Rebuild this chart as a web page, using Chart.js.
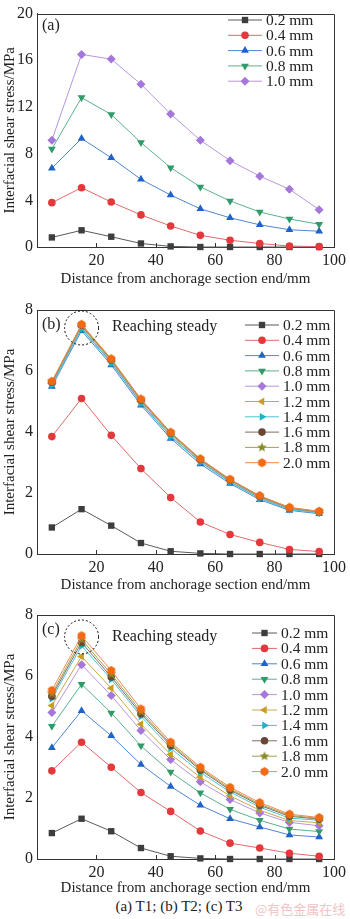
<!DOCTYPE html>
<html>
<head>
<meta charset="utf-8">
<script src="https://cdn.jsdelivr.net/npm/chart.js@4.4.1/dist/chart.umd.min.js"></script>
<style>
  body { margin: 0; background: #fff; }
  #wrap { position: relative; width: 350px; height: 919px; overflow: hidden; }
  canvas { position: absolute; left: 0; }
  .caption { position: absolute; top: 898px; left: 0; width: 358px; text-align: center;
    font: 15px "Liberation Serif", serif; color: #222; }
  .mark { position: absolute; top: 899px; left: 255px; font: 13px "Noto Sans CJK SC"; color: #efc4c4; }
</style>
</head>
<body>
<div id="wrap">
  <canvas id="chartA" width="350" height="288" style="top:0px"></canvas>
  <canvas id="chartB" width="350" height="306" style="top:288px"></canvas>
  <canvas id="chartC" width="350" height="303" style="top:594px"></canvas>
  <div class="caption">(a) T1; (b) T2; (c) T3</div>
  <div class="mark">@有色金属在线</div>
</div>
<script>
// distance from anchorage section end (mm)
const distance = [5, 15, 25, 35, 45, 55, 65, 75, 85, 95];
const widthLabels = ['0.2 mm', '0.4 mm', '0.6 mm', '0.8 mm', '1.0 mm', '1.2 mm', '1.4 mm', '1.6 mm', '1.8 mm', '2.0 mm'];

// (a) T1
const t1_02 = [0.82, 1.43, 0.88, 0.30, 0.05, 0, 0, 0, 0, 0];
const t1_04 = [3.80, 5.08, 3.85, 2.75, 1.80, 1.00, 0.58, 0.30, 0.08, 0.03];
const t1_06 = [6.75, 9.30, 7.65, 5.80, 4.45, 3.27, 2.50, 1.90, 1.48, 1.35];
const t1_08 = [8.40, 12.80, 11.35, 8.95, 6.80, 5.15, 3.95, 3.00, 2.40, 1.95];
const t1_10 = [9.15, 16.50, 16.10, 13.95, 11.40, 9.15, 7.40, 6.07, 4.95, 3.20];

// (b) T2
const t2_02 = [0.87, 1.47, 0.93, 0.36, 0.09, 0.02, 0, 0, 0, 0];
const t2_04 = [3.85, 5.10, 3.89, 2.80, 1.85, 1.05, 0.64, 0.38, 0.15, 0.08];
const t2_06 = [5.49, 7.32, 6.20, 4.88, 3.79, 2.95, 2.31, 1.78, 1.43, 1.32];
const t2_08 = [5.56, 7.40, 6.28, 4.96, 3.87, 3.03, 2.37, 1.84, 1.47, 1.36];
const t2_10 = [5.60, 7.45, 6.32, 5.00, 3.92, 3.06, 2.40, 1.87, 1.49, 1.37];
const t2_12 = [5.62, 7.48, 6.35, 5.03, 3.95, 3.08, 2.42, 1.88, 1.50, 1.38];
const t2_14 = [5.55, 7.38, 6.26, 4.94, 3.85, 3.01, 2.35, 1.82, 1.46, 1.35];
const t2_16 = [5.63, 7.50, 6.37, 5.05, 3.97, 3.10, 2.43, 1.89, 1.51, 1.39];
const t2_18 = [5.64, 7.51, 6.38, 5.06, 3.98, 3.11, 2.44, 1.90, 1.52, 1.39];
const t2_20 = [5.66, 7.53, 6.40, 5.08, 3.99, 3.12, 2.45, 1.91, 1.53, 1.40];

// (c) T3
const t3_02 = [0.85, 1.32, 0.91, 0.36, 0.09, 0.02, 0, 0, 0, 0];
const t3_04 = [2.89, 3.83, 3.01, 2.18, 1.56, 0.92, 0.52, 0.36, 0.19, 0.09];
const t3_06 = [3.65, 4.86, 4.04, 3.10, 2.38, 1.76, 1.32, 1.05, 0.79, 0.72];
const t3_08 = [4.35, 5.73, 4.79, 3.71, 2.85, 2.17, 1.63, 1.27, 0.98, 0.90];
const t3_10 = [4.80, 6.37, 5.36, 4.21, 3.26, 2.53, 1.95, 1.51, 1.20, 1.09];
const t3_12 = [5.03, 6.64, 5.60, 4.42, 3.43, 2.68, 2.07, 1.60, 1.26, 1.19];
const t3_14 = [5.26, 6.99, 5.89, 4.68, 3.63, 2.84, 2.20, 1.70, 1.34, 1.27];
const t3_16 = [5.34, 7.10, 5.97, 4.76, 3.72, 2.92, 2.26, 1.76, 1.40, 1.31];
const t3_18 = [5.42, 7.20, 6.06, 4.83, 3.77, 2.96, 2.30, 1.80, 1.43, 1.33];
const t3_20 = [5.53, 7.32, 6.18, 4.92, 3.83, 3.01, 2.35, 1.85, 1.47, 1.36];

Chart.defaults.font.family = '"Liberation Serif", "Times New Roman", serif';
Chart.defaults.font.size = 15;
Chart.defaults.color = '#222';

// custom marker shapes that Chart.js does not have
function makeHex(color, r) {
  const c = document.createElement('canvas');
  c.width = c.height = 2 * r + 2;
  const g = c.getContext('2d');
  g.fillStyle = color;
  g.beginPath();
  for (let k = 0; k < 6; k++) {
    const a = Math.PI / 6 + k * Math.PI / 3;
    const px = r + 1 + r * Math.cos(a), py = r + 1 + r * Math.sin(a);
    k ? g.lineTo(px, py) : g.moveTo(px, py);
  }
  g.closePath();
  g.fill();
  return c;
}
function makeStar(color, r) {
  const c = document.createElement('canvas');
  c.width = c.height = 2 * r + 2;
  const g = c.getContext('2d');
  g.fillStyle = color;
  g.beginPath();
  for (let k = 0; k < 10; k++) {
    const rr = k % 2 ? r * 0.45 : r;
    const a = -Math.PI / 2 + k * Math.PI / 5;
    const px = r + 1 + rr * Math.cos(a), py = r + 1 + rr * Math.sin(a);
    k ? g.lineTo(px, py) : g.moveTo(px, py);
  }
  g.closePath();
  g.fill();
  return c;
}

// one style per width class
const styles = [
  { color: '#3d3d3d', line: '#5a5a5a', shape: 'rect', rot: 0, r: 4.5 },
  { color: '#e4393c', line: '#e06a6a', shape: 'circle', rot: 0, r: 3.8 },
  { color: '#1f62c8', line: '#4f86d0', shape: 'triangle', rot: 0, r: 4.5 },
  { color: '#2e9b68', line: '#5cb08a', shape: 'triangle', rot: 180, r: 4.5 },
  { color: '#a577db', line: '#b896e0', shape: 'rectRot', rot: 0, r: 4.5 },
  { color: '#c79d22', line: '#caa84a', shape: 'triangle', rot: 270, r: 4.5 },
  { color: '#17b6c9', line: '#4cc3d2', shape: 'triangle', rot: 90, r: 4.5 },
  { color: '#6b4535', line: '#866a5e', shape: 'circle', rot: 0, r: 3.8 },
  { color: '#8a8a26', line: '#a0a050', shape: makeStar('#8a8a26', 5), rot: 0, r: 5 },
  { color: '#f26a12', line: '#f08a4a', shape: makeHex('#f26a12', 4.5), rot: 0, r: 4.5 }
];

function makeSets(series) {
  return series.map((vals, i) => ({
    label: widthLabels[i],
    data: vals.map((v, k) => ({ x: distance[k], y: v })),
    borderColor: styles[i].line,
    backgroundColor: styles[i].color,
    pointBackgroundColor: styles[i].color,
    pointBorderColor: styles[i].color,
    pointBorderWidth: 0,
    pointStyle: styles[i].shape,
    pointRotation: styles[i].rot,
    pointRadius: styles[i].r,
    borderWidth: 1,
    tension: 0,
    clip: false,
    order: series.length - i
  }));
}

const panelDecor = {
  id: 'panelDecor',
  afterDatasetsDraw(chart, args, opts) {
    const { ctx, chartArea: a, scales: { x, y } } = chart;
    ctx.save();
    ctx.strokeStyle = '#333';
    ctx.lineWidth = 1;
    const top = Math.round(a.top) + 0.5, right = Math.round(a.right) + 0.5, bottom = Math.round(a.bottom);
    ctx.beginPath();
    ctx.moveTo(Math.round(a.left), top);
    ctx.lineTo(right, top);
    ctx.lineTo(right, bottom);
    ctx.stroke();
    // inward ticks
    ctx.beginPath();
    x.ticks.forEach(t => {
      if (t.value <= 0 || t.value >= 100) return;
      const px = Math.round(x.getPixelForValue(t.value)) + 0.5;
      ctx.moveTo(px, bottom);
      ctx.lineTo(px, bottom - 4);
    });
    ctx.stroke();

    // panel tag
    ctx.fillStyle = '#222';
    ctx.font = '16px "Liberation Serif"';
    ctx.textBaseline = 'middle';
    ctx.textAlign = 'left';
    ctx.fillText(opts.tag, a.left + 5, a.top + opts.tagDy);

    // note + dashed circle
    if (opts.note) {
      ctx.fillText(opts.note, a.left + 75, a.top + opts.noteDy);
      ctx.setLineDash([2, 2]);
      ctx.strokeStyle = '#111';
      ctx.beginPath();
      ctx.arc(x.getPixelForValue(opts.circleX), y.getPixelForValue(opts.circleY), 17, 0, Math.PI * 2);
      ctx.stroke();
      ctx.setLineDash([]);
    }

    // legend: line + marker + text
    ctx.font = '15.5px "Liberation Serif"';
    chart.data.datasets.forEach((ds, i) => {
      const ly = opts.legendY + i * opts.legendRow;
      ctx.strokeStyle = ds.borderColor;
      ctx.beginPath();
      ctx.moveTo(opts.legendX, ly);
      ctx.lineTo(opts.legendX + opts.legendLen, ly);
      ctx.stroke();
      ctx.fillStyle = ds.pointBackgroundColor;
      ctx.strokeStyle = ds.pointBorderColor;
      Chart.helpers.drawPoint(ctx, { pointStyle: ds.pointStyle, rotation: ds.pointRotation, radius: ds.pointRadius, borderWidth: 0 },
        opts.legendX + opts.legendLen / 2, ly);
      ctx.fillStyle = '#222';
      ctx.fillText(ds.label, opts.legendX + opts.legendLen + 4, ly + 1);
    });
    ctx.restore();
  }
};

function makeChart(id, series, yMax, yStep, padTop, xHeight, decor) {
  return new Chart(document.getElementById(id), {
    type: 'line',
    data: { datasets: makeSets(series) },
    options: {
      responsive: false,
      animation: false,
      layout: { padding: { top: padTop, right: 11, bottom: 0, left: 0 } },
      plugins: { legend: { display: false }, tooltip: { enabled: false }, panelDecor: decor },
      scales: {
        x: {
          type: 'linear', min: 0, max: 100,
          grid: { display: false, drawTicks: false },
          border: { display: true, color: '#333', width: 1 },
          ticks: { stepSize: 20, padding: 4, font: { size: 16 }, callback: v => (v === 0 ? '' : v), maxRotation: 0 },
          title: { display: true, text: 'Distance from anchorage section end/mm', padding: 0 },
          afterFit: s => { s.height = xHeight; }
        },
        y: {
          min: 0, max: yMax,
          grid: { display: false, drawTicks: false },
          border: { display: true, color: '#333', width: 1 },
          ticks: { stepSize: yStep, padding: 4, font: { size: 16 } },
          title: { display: true, text: 'Interfacial shear stress/MPa', padding: 1 },
          afterFit: s => { s.width = 37; }
        }
      }
    },
    plugins: [panelDecor]
  });
}

makeChart('chartA', [t1_02, t1_04, t1_06, t1_08, t1_10], 20, 4, 5, 41,
  { tag: '(a)', tagDy: 12, legendX: 228, legendY: 20, legendLen: 34, legendRow: 15.3 });

makeChart('chartB', [t2_02, t2_04, t2_06, t2_08, t2_10, t2_12, t2_14, t2_16, t2_18, t2_20], 8, 2, 22, 40,
  { tag: '(b)', tagDy: 15, note: 'Reaching steady', noteDy: 17, circleX: 15, circleY: 7.41,
    legendX: 245, legendY: 37, legendLen: 34, legendRow: 15.3 });

makeChart('chartC', [t3_02, t3_04, t3_06, t3_08, t3_10, t3_12, t3_14, t3_16, t3_18, t3_20], 8, 2, 21, 38,
  { tag: '(c)', tagDy: 15, note: 'Reaching steady', noteDy: 22, circleX: 15, circleY: 7.28,
    legendX: 252, legendY: 39, legendLen: 25, legendRow: 15.4 });
</script>
</body>
</html>
